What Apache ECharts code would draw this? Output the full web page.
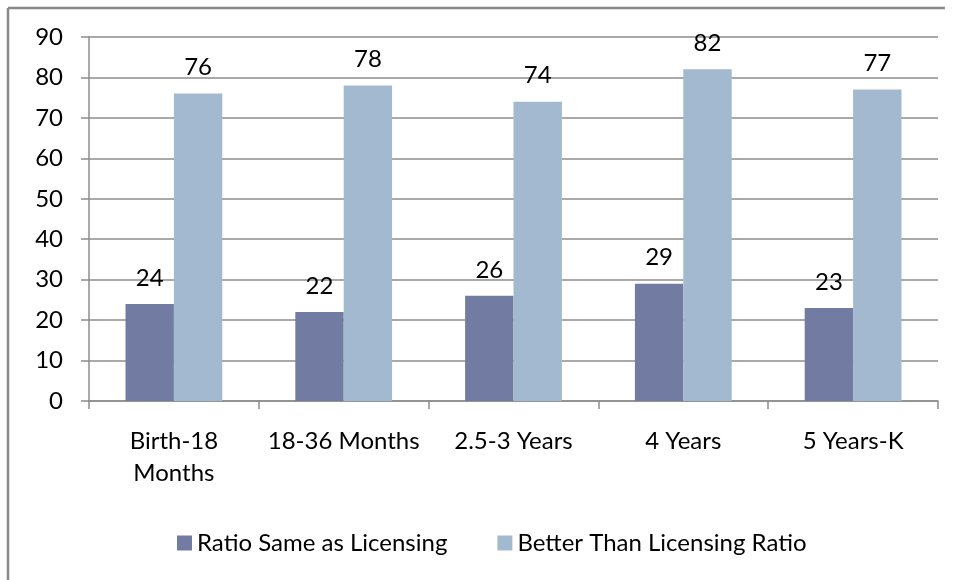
<!DOCTYPE html>
<html>
<head>
<meta charset="utf-8">
<script src="https://cdn.jsdelivr.net/npm/echarts@6/dist/echarts.min.js"></script>
<style>
  html, body { margin: 0; padding: 0; background: #fff; }
  #chart { width: 955px; height: 580px; }
</style>
</head>
<body>
<div id="chart"></div>
<script>
// Age groups and staff-to-child ratio results
const categories = ['Birth-18\nMonths', '18-36 Months', '2.5-3 Years', '4 Years', '5 Years-K'];
const sameAsLicensing = [24, 22, 26, 29, 23];
const betterThanLicensing = [76, 78, 74, 82, 77];
const seriesNames = ['Ratio Same as Licensing', 'Better Than Licensing Ratio'];
const yTicks = { min: 0, max: 90, interval: 10 };

const FONT = 'Lato, "Open Sans", sans-serif';
const GRID_GRAY = '#8c8c8c';

const chart = echarts.init(document.getElementById('chart'), null, { renderer: 'canvas' });

const labelStyle = {
  show: true,
  position: 'top',
  distance: 14,
  color: '#000',
  fontFamily: FONT,
  fontSize: 24
};

chart.setOption({
  animation: false,
  backgroundColor: '#fff',
  graphic: [
    // outer frame: top and left edges
    { type: 'line', shape: { x1: 8, y1: 8, x2: 945, y2: 8 }, style: { stroke: '#888', lineWidth: 2.5 } },
    { type: 'line', shape: { x1: 8, y1: 8, x2: 8, y2: 580 }, style: { stroke: '#888', lineWidth: 2.5 } }
  ],
  grid: { left: 89, right: 17, top: 37, bottom: 179, containLabel: false },
  legend: {
    data: seriesNames,
    left: 172,
    top: 526,
    icon: 'rect',
    itemWidth: 15,
    itemHeight: 15,
    itemGap: 50,
    textStyle: { fontFamily: FONT, fontSize: 24, color: '#000' }
  },
  xAxis: {
    type: 'category',
    data: categories,
    axisLine: { show: true, lineStyle: { color: GRID_GRAY, width: 1.5 } },
    axisTick: { show: true, length: 8, alignWithLabel: false, lineStyle: { color: GRID_GRAY, width: 1.5 } },
    axisLabel: { margin: 24, color: '#000', fontFamily: FONT, fontSize: 24, lineHeight: 32, interval: 0 }
  },
  yAxis: {
    type: 'value',
    min: yTicks.min,
    max: yTicks.max,
    interval: yTicks.interval,
    axisLine: { show: true, lineStyle: { color: GRID_GRAY, width: 1.5 } },
    axisTick: { show: true, length: 8, lineStyle: { color: GRID_GRAY, width: 1.5 } },
    axisLabel: { margin: 26, color: '#000', fontFamily: FONT, fontSize: 24 },
    splitLine: { show: true, lineStyle: { color: GRID_GRAY, width: 1.5 } }
  },
  series: [
    {
      name: seriesNames[0],
      type: 'bar',
      data: sameAsLicensing,
      barGap: '0%',
      barCategoryGap: '43%',
      itemStyle: { color: '#727ba1' },
      label: labelStyle
    },
    {
      name: seriesNames[1],
      type: 'bar',
      data: betterThanLicensing,
      barGap: '0%',
      barCategoryGap: '43%',
      itemStyle: { color: '#a2b9d0' },
      label: labelStyle
    }
  ]
});
</script>
</body>
</html>
